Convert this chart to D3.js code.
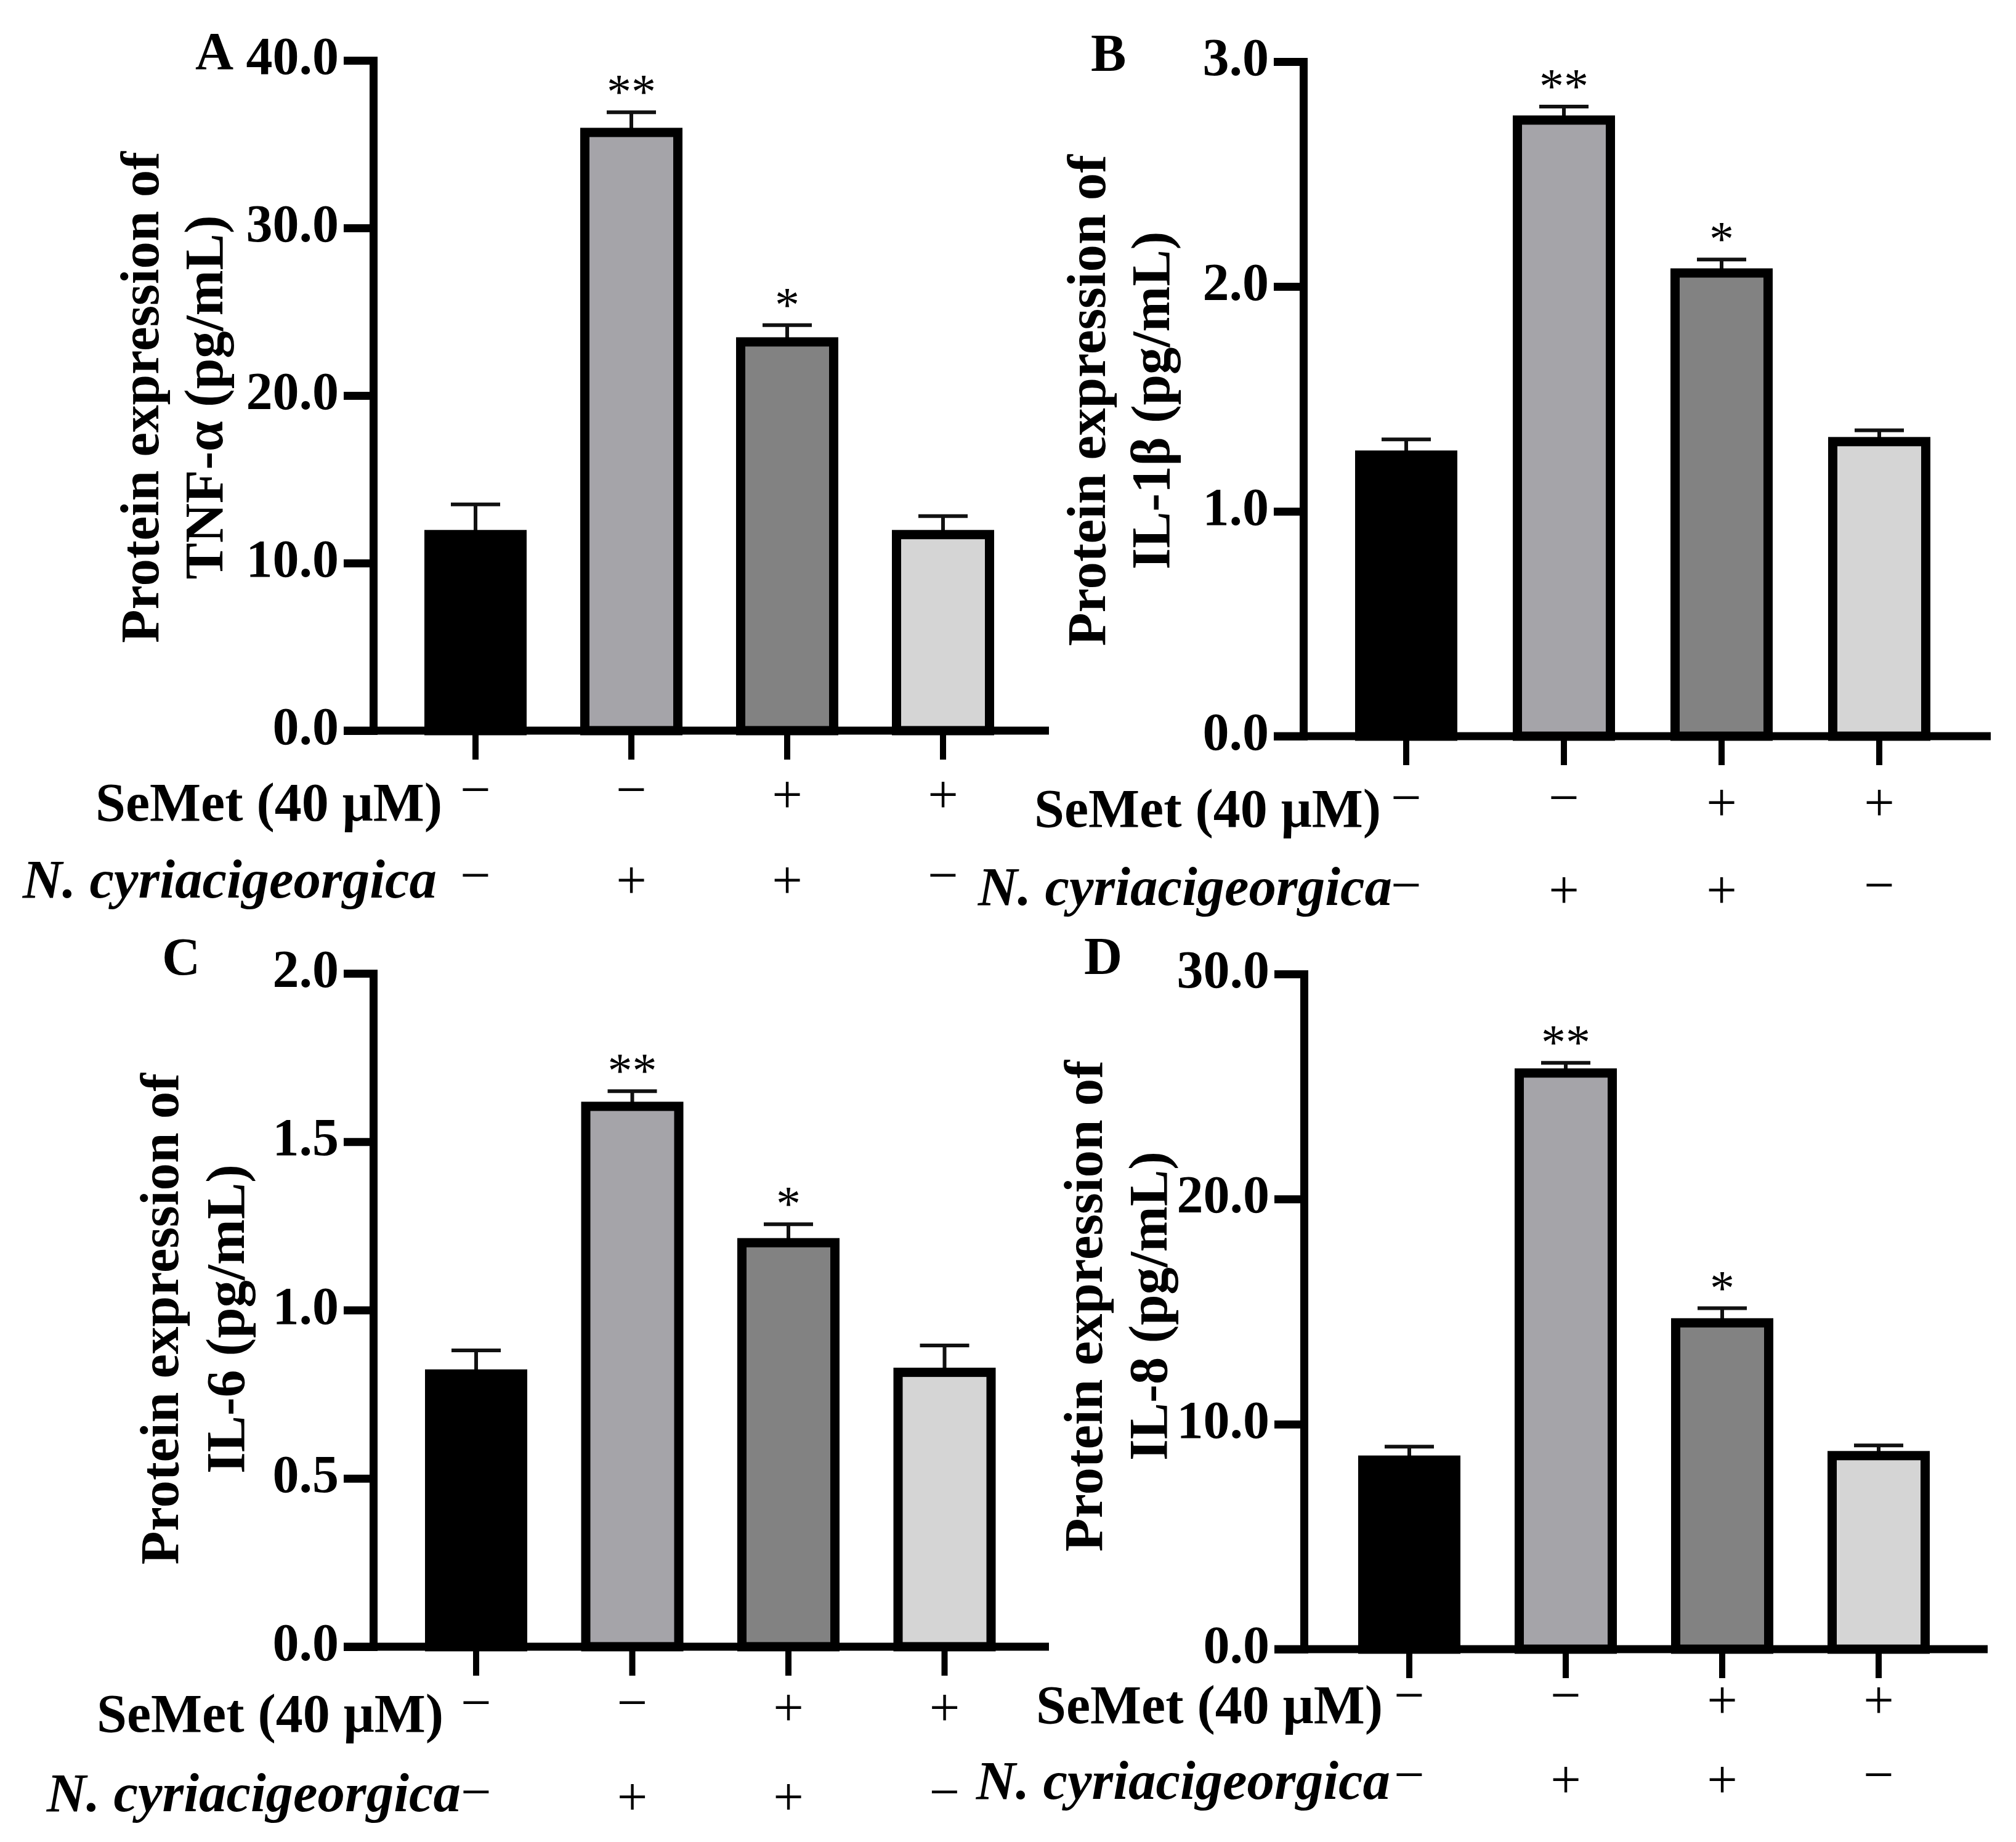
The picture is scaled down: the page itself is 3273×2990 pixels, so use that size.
<!DOCTYPE html>
<html>
<head>
<meta charset="utf-8">
<script src="https://cdn.jsdelivr.net/npm/d3@7"></script>
<style>
  body { margin: 0; background: #fff; }
  svg { display: block; font-family: "Liberation Serif", "Times New Roman", serif; }
</style>
</head>
<body>
<svg id="fig" width="3273" height="2990"></svg>
<script>
// ---- data ----
const groups = ['Control', 'N. cyriacigeorgica', 'SeMet + N. cyriacigeorgica', 'SeMet']
const semetRow = ['−', '−', '+', '+']
const nocRow = ['−', '+', '+', '−']
const signif = ['', '**', '*', '']

const panelLetters = ['A', 'B', 'C', 'D']
const cytokines = ['TNF-α', 'IL-1β', 'IL-6', 'IL-8']

const tnfMean = [11.7, 35.7, 23.2, 11.7]
const tnfSem = [1.8, 1.2, 1.0, 1.1]
const il1bMean = [1.25, 2.74, 2.06, 1.31]
const il1bSem = [0.07, 0.06, 0.06, 0.05]
const il6Mean = [0.81, 1.605, 1.2, 0.815]
const il6Sem = [0.07, 0.045, 0.055, 0.08]
const il8Mean = [8.4, 25.6, 14.5, 8.6]
const il8Sem = [0.6, 0.45, 0.65, 0.45]

const tnfTicks = [0, 10, 20, 30, 40]
const il1bTicks = [0, 1, 2, 3]
const il6Ticks = [0, 0.5, 1.0, 1.5, 2.0]
const il8Ticks = [0, 10, 20, 30]

const means = [tnfMean, il1bMean, il6Mean, il8Mean]
const sems = [tnfSem, il1bSem, il6Sem, il8Sem]
const ticks = [tnfTicks, il1bTicks, il6Ticks, il8Ticks]

const fills = ['#000000', '#a5a4a9', '#828282', '#d5d5d5']

// ---- layout of the four panels (pixels) ----
const layout = [
  {axisX: 606, yTop: 98, yBottom: 1186, xFirst: 772, xStep: 253, axisEnd: 1703,
   letter: [317, 112], title: [228, 332, 645], rowX: [718, 709], rowBase: [1332, 1457], symY: [1293, 1432]},
  {axisX: 2116, yTop: 100, yBottom: 1195, xFirst: 2283, xStep: 256, axisEnd: 3232,
   letter: [1771, 115], title: [1765, 1869, 650], rowX: [2242, 2260], rowBase: [1342, 1469], symY: [1306, 1448]},
  {axisX: 606, yTop: 1580, yBottom: 2673, xFirst: 773, xStep: 253.5, axisEnd: 1703,
   letter: [263, 1582], title: [260, 367, 2141], rowX: [720, 748], rowBase: [2811, 2940], symY: [2775, 2920]},
  {axisX: 2117, yTop: 1581, yBottom: 2677, xFirst: 2288, xStep: 254, axisEnd: 3227,
   letter: [1760, 1581], title: [1760, 1865, 2120], rowX: [2245, 2257], rowBase: [2797, 2920], symY: [2763, 2892]}
]

const fontSize = 86
const tickLen = 48
const barW = 151
const svg = d3.select('#fig')

function drawPanel(i) {
  const L = layout[i]
  const g = svg.append('g')

  const x = d3.scaleBand()
    .domain(groups)
    .range([L.xFirst - L.xStep / 2, L.xFirst + L.xStep * (groups.length - 0.5)])
    .padding(0)
  const cx = d => x(d) + x.bandwidth() / 2

  const t = ticks[i]
  const y = d3.scaleLinear()
    .domain([0, d3.max(t)])
    .range([L.yBottom, L.yTop])

  const data = groups.map((grp, k) => ({grp, mean: means[i][k], sem: sems[i][k], fill: fills[k], sig: signif[k]}))

  // error bars (upper half only shows)
  const eb = g.append('g').attr('stroke', '#111').attr('stroke-width', 6)
  eb.selectAll('line.v').data(data).join('line')
    .attr('x1', d => cx(d.grp)).attr('x2', d => cx(d.grp))
    .attr('y1', d => y(d.mean)).attr('y2', d => y(d.mean + d.sem))
  eb.selectAll('line.c').data(data).join('line')
    .attr('x1', d => cx(d.grp) - 40).attr('x2', d => cx(d.grp) + 40)
    .attr('y1', d => y(d.mean + d.sem)).attr('y2', d => y(d.mean + d.sem))

  // bars
  g.append('g').selectAll('rect').data(data).join('rect')
    .attr('x', d => cx(d.grp) - barW / 2)
    .attr('width', barW)
    .attr('y', d => y(d.mean))
    .attr('height', d => y(0) - y(d.mean))
    .attr('fill', d => d.fill)
    .attr('stroke', '#000')
    .attr('stroke-width', 15)

  // significance stars
  g.append('g').selectAll('text').data(data.filter(d => d.sig)).join('text')
    .attr('x', d => cx(d.grp))
    .attr('y', d => y(d.mean + d.sem) - 6)
    .attr('text-anchor', 'middle')
    .attr('font-size', 80)
    .text(d => d.sig)

  // y axis
  const ya = g.append('g')
    .attr('transform', 'translate(' + L.axisX + ',0)')
    .call(d3.axisLeft(y).tickValues(t).tickFormat(d3.format('.1f')).tickSize(tickLen).tickSizeOuter(0).tickPadding(8))
  ya.select('.domain').attr('stroke-width', 13).attr('stroke-linecap', 'square')
  ya.selectAll('.tick line').attr('stroke-width', 13)
  ya.selectAll('.tick text')
    .attr('font-family', '"Liberation Serif", "Times New Roman", serif')
    .attr('font-size', fontSize).attr('font-weight', 'bold').attr('fill', '#000')
    .attr('dy', '0.25em')

  // x axis
  const xa = g.append('g')
    .attr('transform', 'translate(0,' + L.yBottom + ')')
    .call(d3.axisBottom(x).tickSize(47).tickSizeOuter(0).tickFormat(''))
  xa.select('.domain').remove()
  xa.selectAll('.tick line').attr('stroke-width', 10)
  g.append('line')
    .attr('x1', L.axisX - tickLen).attr('x2', L.axisEnd)
    .attr('y1', L.yBottom).attr('y2', L.yBottom)
    .attr('stroke', '#000').attr('stroke-width', 13)

  // panel letter
  g.append('text')
    .attr('x', L.letter[0]).attr('y', L.letter[1])
    .attr('font-size', fontSize).attr('font-weight', 'bold')
    .text(panelLetters[i])

  // y title, two lines
  const titles = ['Protein expression of', cytokines[i] + ' (pg/mL)']
  titles.forEach((s, k) => {
    g.append('text')
      .attr('transform', 'translate(' + L.title[k] + ',' + L.title[2] + ') rotate(-90)')
      .attr('text-anchor', 'middle')
      .attr('dy', '0.33em')
      .attr('font-size', 89).attr('font-weight', 'bold')
      .text(s)
  })

  // treatment rows
  g.append('text')
    .attr('x', L.rowX[0]).attr('y', L.rowBase[0])
    .attr('text-anchor', 'end')
    .attr('font-size', 88).attr('font-weight', 'bold')
    .text('SeMet (40 μM)')
  g.append('text')
    .attr('x', L.rowX[1]).attr('y', L.rowBase[1])
    .attr('text-anchor', 'end')
    .attr('font-size', 89).attr('font-weight', 'bold').attr('font-style', 'italic')
    .text('N. cyriacigeorgica')

  const rows = [semetRow, nocRow]
  rows.forEach((row, r) => {
    g.append('g').selectAll('text').data(groups).join('text')
      .attr('x', d => cx(d))
      .attr('y', (d, k) => L.symY[r] + (row[k] === '+' ? 4 : -4))
      .attr('dy', '0.25em')
      .attr('text-anchor', 'middle')
      .attr('font-size', 88)
      .text((d, k) => row[k])
  })
}

panelLetters.forEach((p, i) => drawPanel(i))
</script>
</body>
</html>
